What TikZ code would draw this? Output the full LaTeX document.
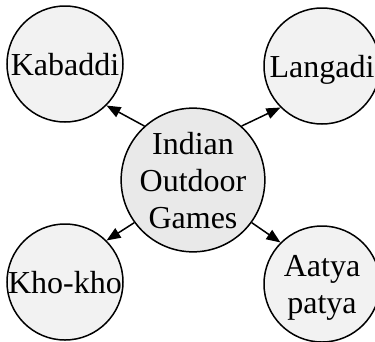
\documentclass[tikz,border=0pt]{standalone}
\usepackage{fontspec}
\setmainfont{Liberation Serif}
\usetikzlibrary{arrows.meta}
\tikzset{
  game/.style={circle, draw, line width=1.5pt, fill=gray!10, minimum size=116pt,
    inner sep=0pt, align=center, text depth=0pt, font=\fontsize{32}{37}\selectfont},
  hub/.style={game, fill=gray!17, minimum size=134pt},
  link/.style={-{Triangle[length=14pt,width=11pt]}, line width=1.5pt}
}

\begin{document}
\begin{tikzpicture}[x=1pt,y=-1pt]
    \useasboundingbox (0,0) rectangle (375,341);
    \node[hub] (games) at (193,180) {Indian\\Outdoor\\Games};

    \node[game] (kabaddi) at (65,64) {Kabaddi};
    \node[game] (langadi) at (322,66) {Langadi};
    \node[game] (khokho) at (65,282) {Kho-kho};
    \node[game] (aatya) at (322,284) {Aatya\\patya};

    \draw[link] (games.132) -- (kabaddi.-45);
    \draw[link] (games.48) -- (langadi.-135);
    \draw[link] (games.216) -- (khokho.45);
    \draw[link] (games.-36) -- (aatya.135);
\end{tikzpicture}
\end{document}
